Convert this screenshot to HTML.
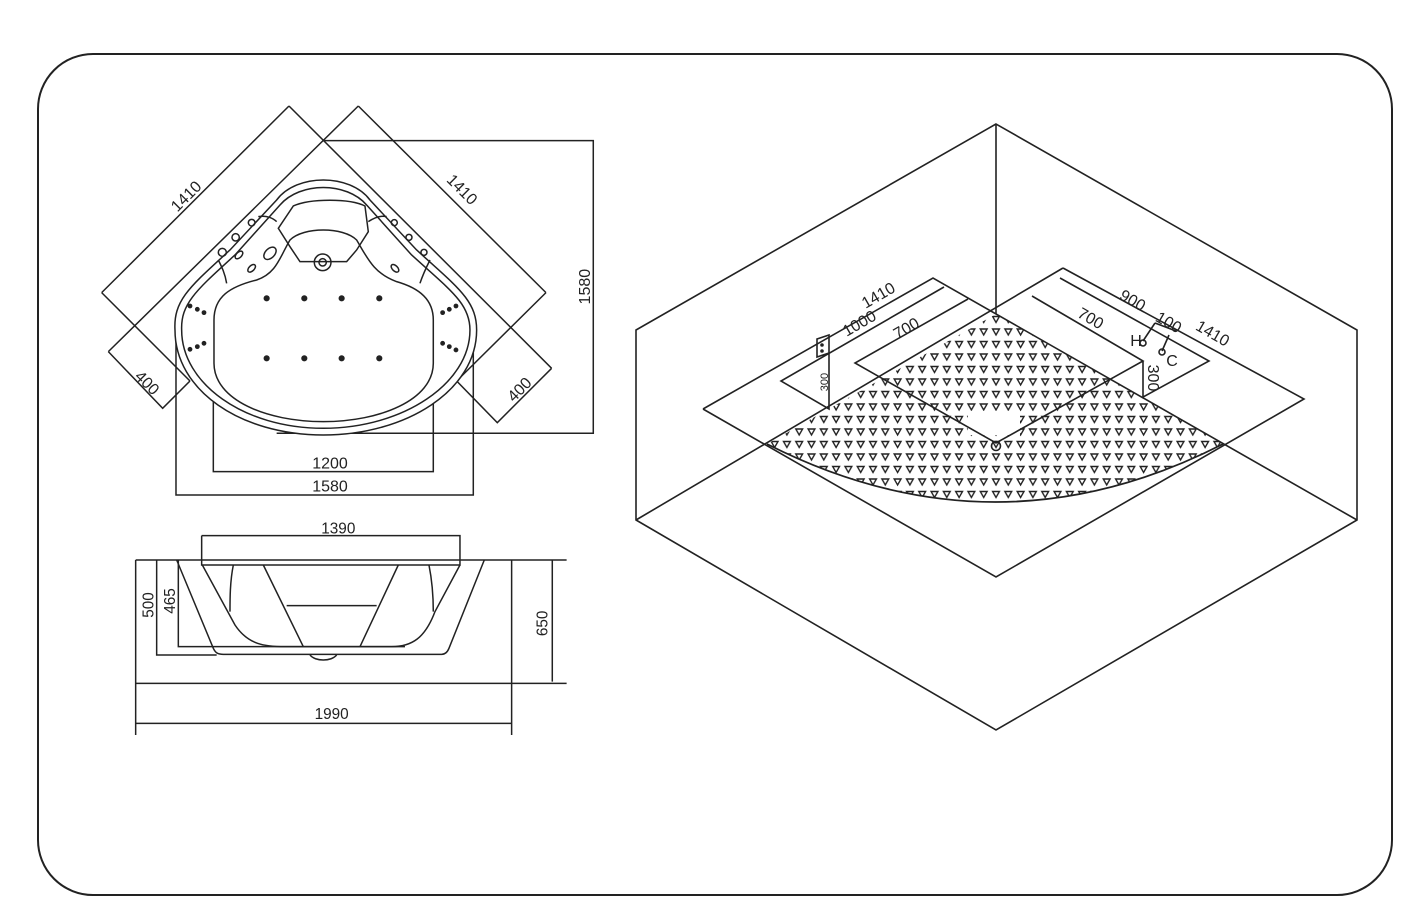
<!DOCTYPE html>
<html><head><meta charset="utf-8"><style>
html,body{margin:0;padding:0;background:#fff;}
svg{display:block;}
text{font-family:"Liberation Sans",sans-serif;fill:#222;}
.s *{vector-effect:non-scaling-stroke;}
</style></head><body>
<svg width="1425" height="922" viewBox="0 0 1425 922" xmlns="http://www.w3.org/2000/svg">
<rect x="38" y="54" width="1354" height="841" rx="55" fill="none" stroke="#222" stroke-width="2"/>

<!-- TOP VIEW -->
<g class="s" transform="translate(90,100) scale(0.3333)" fill="none" stroke="#222" stroke-width="1.5">
 <path d="M597,18 L35,578 M597,18 L1385,805 M805,18 L1368,578 M805,18 L55,755 M35,578 L300,843 M55,755 L218,925 L300,843 M1368,578 L1100,843 M1385,805 L1222,968 L1100,843"/>
 <path d="M700,122 L1510,122 L1510,1000 L560,1000 M258,680 L258,1185 L1150,1185 L1150,680 M370,640 L370,1115 L1030,1115 L1030,640"/>
 <path fill="#fff" d="M255,690 C250,600 300,560 420,450 L560,300 C620,220 780,220 840,300 L980,450 C1100,560 1160,600 1160,690 C1160,870 950,1005 700,1005 C450,1005 255,870 255,690 Z"/>
 <path d="M275,690 C272,610 320,570 435,465 L570,315 C630,245 770,245 830,315 L965,465 C1080,570 1140,610 1140,690 C1140,850 940,985 700,985 C460,985 275,850 275,690 Z"/>
 <path d="M372,660 C372,590 420,560 500,540 C560,520 570,470 600,420 C640,380 760,380 800,420 C830,470 850,520 920,545 C990,565 1030,600 1030,660 L1030,790 C1030,900 870,965 700,965 C530,965 372,900 372,790 Z"/>
 <path d="M565,385 L610,318 C660,295 780,295 825,318 L835,395 L800,450 L770,485 L630,485 L600,440 Z"/>
 <circle cx="698" cy="487" r="25"/><circle cx="698" cy="487" r="11"/>
 <path d="M505,350 C530,345 550,355 560,365 M890,350 C870,345 850,355 835,365 M385,480 C395,500 405,520 410,550 M1020,480 C1010,500 1000,520 990,550"/>
 <g fill="none">
 <circle cx="485" cy="368" r="10"/><circle cx="437" cy="412" r="11"/><circle cx="397" cy="457" r="12"/>
 <circle cx="913" cy="368" r="9"/><circle cx="957" cy="412" r="9"/><circle cx="1002" cy="457" r="9"/>
 <ellipse cx="540" cy="460" rx="22" ry="14" transform="rotate(-45 540 460)"/>
 <ellipse cx="447" cy="465" rx="14" ry="8" transform="rotate(-45 447 465)"/>
 <ellipse cx="485" cy="505" rx="14" ry="8" transform="rotate(-45 485 505)"/>
 <ellipse cx="915" cy="505" rx="14" ry="8" transform="rotate(45 915 505)"/>
 </g>
 <g fill="#222">
 <circle cx="530" cy="595" r="7"/><circle cx="643" cy="595" r="7"/><circle cx="755" cy="595" r="7"/><circle cx="868" cy="595" r="7"/>
 <circle cx="530" cy="775" r="7"/><circle cx="643" cy="775" r="7"/><circle cx="755" cy="775" r="7"/><circle cx="868" cy="775" r="7"/>
 <circle cx="300" cy="618" r="5"/><circle cx="322" cy="628" r="5"/><circle cx="342" cy="638" r="5"/>
 <circle cx="300" cy="748" r="5"/><circle cx="322" cy="740" r="5"/><circle cx="342" cy="730" r="5"/>
 <circle cx="1058" cy="638" r="5"/><circle cx="1078" cy="628" r="5"/><circle cx="1098" cy="618" r="5"/>
 <circle cx="1058" cy="730" r="5"/><circle cx="1078" cy="740" r="5"/><circle cx="1098" cy="750" r="5"/>
 </g>
 <g stroke="none" fill="#222" font-size="48">
 <text x="300" y="300" transform="rotate(-45 300 300)" text-anchor="middle">1410</text>
 <text x="1105" y="280" transform="rotate(45 1105 280)" text-anchor="middle">1410</text>
 <text x="160" y="860" transform="rotate(45 160 860)" text-anchor="middle">400</text>
 <text x="1300" y="880" transform="rotate(-45 1300 880)" text-anchor="middle">400</text>
 <text x="1500" y="560" transform="rotate(-90 1500 560)" text-anchor="middle">1580</text>
 <text x="720" y="1105" text-anchor="middle">1200</text>
 <text x="720" y="1175" text-anchor="middle">1580</text>
 </g>
</g>

<!-- SIDE VIEW -->
<g class="s" transform="translate(125,515) scale(0.3333)" fill="none" stroke="#222" stroke-width="1.5">
 <path d="M230,62 L1005,62 L1005,135 M230,62 L230,150 L1005,150 L1005,135"/>
 <path d="M32,135 L1325,135 M32,505 L1325,505 M32,135 L32,660 M1160,135 L1160,660 M32,625 L1160,625 M1282,135 L1282,500"/>
 <path d="M95,135 L95,420 L275,420 M160,135 L160,395 L840,395"/>
 <path d="M155,135 L265,400 C272,415 280,418 295,418 L950,418 C962,418 968,410 972,400 L1078,135"/>
 <path d="M232,150 L330,330 C370,390 420,395 480,395 L800,395 C860,395 900,370 930,290 L1005,150"/>
 <path d="M415,150 L535,395 M820,150 L705,395 M485,272 L755,272 M325,150 C315,200 315,250 315,290 M912,150 C922,200 925,250 925,290"/>
 <path d="M555,420 C570,440 620,440 635,420"/>
 <g stroke="none" fill="#222" font-size="46">
 <text x="640" y="55" text-anchor="middle">1390</text>
 <text x="85" y="270" transform="rotate(-90 85 270)" text-anchor="middle">500</text>
 <text x="150" y="258" transform="rotate(-90 150 258)" text-anchor="middle">465</text>
 <text x="1268" y="325" transform="rotate(-90 1268 325)" text-anchor="middle">650</text>
 <text x="620" y="612" text-anchor="middle">1990</text>
 </g>
</g>

<!-- ISOMETRIC VIEW -->
<defs>
 <pattern id="tri" width="12.3" height="12.5" patternUnits="userSpaceOnUse" x="990" y="314">
  <path d="M2.6,2.5 L9.4,2.5 L6,8.5 Z" fill="none" stroke="#222" stroke-width="1.4"/>
 </pattern>
 <clipPath id="sec"><path d="M996,314 L1223,444 Q996,560 767,444 Z"/></clipPath>
</defs>
<g fill="none" stroke="#222" stroke-width="1.6">
 <path d="M996,124 L636,330 L636,520 L996,730 L1357,520 L1357,330 Z"/>
 <rect x="760" y="310" width="470" height="200" fill="url(#tri)" clip-path="url(#sec)" stroke="none"/>
 <rect x="968" y="411" width="52" height="24" fill="#fff" stroke="none"/>
 <path d="M996,124 L996,314"/>
 <path d="M703,409 L933,278 L1357,520 M1063,268 L636,520 M1063,268 L1304,399 L996,577 L703,409"/>
 <path d="M767,444 Q996,560 1223,444" stroke-width="1.8"/>
 <path d="M944,287 L781,381 L829,409 L829,335 M817,339 L829,335 L829,353 L817,357 Z"/>
 <path d="M968,299 L855,363 L996,443 L1143,361 L1032,296 M1143,361 L1143,397 M1060,278 L1209,361 L1143,397"/>
 <path d="M1143,341 L1155,323 M1162,351 L1169,335 M1155,323 L1176,331"/>
 <circle cx="1143" cy="343" r="3"/><circle cx="1162" cy="352" r="3"/><circle cx="996" cy="446" r="4.5"/>
 <circle cx="822" cy="345" r="1" fill="#222"/><circle cx="822" cy="351" r="1" fill="#222"/>
</g>
<g fill="#222" font-size="16">
 <text x="881" y="300" transform="rotate(-30 881 300)" text-anchor="middle">1410</text>
 <text x="862" y="328" transform="rotate(-30 862 328)" text-anchor="middle">1000</text>
 <text x="909" y="333" transform="rotate(-30 909 333)" text-anchor="middle">700</text>
 <text x="1130" y="305" transform="rotate(30 1130 305)" text-anchor="middle">900</text>
 <text x="1088" y="323" transform="rotate(30 1088 323)" text-anchor="middle">700</text>
 <text x="1166" y="327" transform="rotate(30 1166 327)" text-anchor="middle">100</text>
 <text x="1210" y="338" transform="rotate(30 1210 338)" text-anchor="middle">1410</text>
 <text x="1136" y="346" text-anchor="middle">H</text>
 <text x="1172" y="366" text-anchor="middle">C</text>
 <text x="1148" y="378" transform="rotate(90 1148 378)" text-anchor="middle">300</text>
 <text x="828" y="382" font-size="11" transform="rotate(-90 828 382)" text-anchor="middle">300</text>
</g>
</svg>
</body></html>
